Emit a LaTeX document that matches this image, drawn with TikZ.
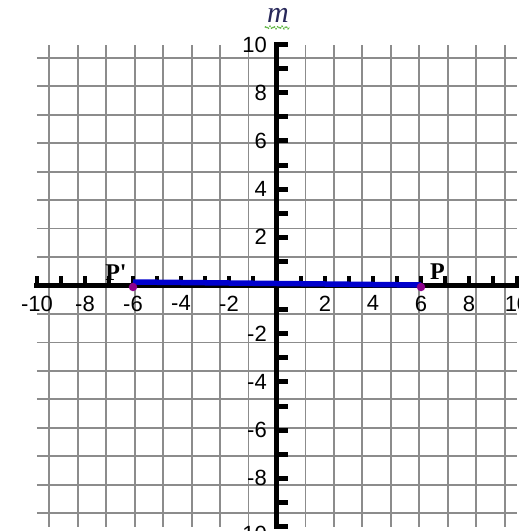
\documentclass[tikz,border=0pt]{standalone}
\usepackage{fontspec}
\setmainfont{Liberation Sans}
\newfontfamily\serifface{Liberation Serif}
\usetikzlibrary{decorations.pathmorphing}
\definecolor{gridgray}{RGB}{140,140,140}
\definecolor{segblue}{RGB}{0,0,205}
\definecolor{dotpurple}{RGB}{140,0,140}
\definecolor{mcolor}{RGB}{40,40,90}
\definecolor{squiggreen}{RGB}{90,180,60}
\begin{document}
\begin{tikzpicture}[x=24pt,y=24.1pt,
  gridline/.style={draw=gridgray, line width=1.8pt},
  axisline/.style={draw=black, line width=5pt, line cap=rect},
  xtick/.style={draw=black, line width=4pt},
  ytick/.style={draw=black, line width=5pt},
  numlab/.style={font=\fontsize{22}{22}\selectfont, inner sep=0pt},
  ptlab/.style={font=\serifface\bfseries\fontsize{24}{24}\selectfont, inner sep=0pt},
  segline/.style={draw=segblue, line width=5.5pt},
  ptdot/.style={fill=dotpurple, circle, inner sep=0pt, minimum size=8.5pt}]
  \useasboundingbox (-277pt,-245.5pt) rectangle (242pt,285.5pt);
  \fill[white] (-277pt,-245.5pt) rectangle (242pt,285.5pt);
  % grid
  \draw[gridline] (-10,-10) grid (10,10);
  % axes
  \draw[axisline] (-10,0) -- (10,0);
  \draw[axisline] (0,-10) -- (0,10);
  \foreach \i in {-10,...,-1,1,2,...,10} {
    \draw[xtick] (\i,0) -- ++(0,10pt);
    \draw[ytick] (0,\i) -- ++(11pt,0);
  }
  % axis labels
  \foreach \i in {-10,-8,-6,-4,-2,2,4,6,8,10} {
    \node[numlab, anchor=north] (xl\i) at ([yshift=-10pt]\i,0) {\i};
  }
  \foreach \i in {-8,-6,-4,-2,2,4,6,8,10} {
    \node[numlab, anchor=east] (yl\i) at ([xshift=-10pt]0,\i) {\i};
  }
  \node[numlab, anchor=east] (ylbottom) at ([xshift=-10pt,yshift=-7pt]0,-10) {-10};
  % line name
  \node[font=\serifface\itshape\fontsize{30}{30}\selectfont, text=mcolor, inner sep=0pt] (mlab) at (1pt,270pt) {m};
  \draw[squiggreen, line width=1.3pt, dash pattern=on 1.3pt off 1.2pt,
        decorate, decoration={zigzag, segment length=4pt, amplitude=1.3pt}]
        (-12pt,258pt) -- (13pt,258pt);
  % segment
  \coordinate (Pp) at ([yshift=3.5pt]-6,0);
  \coordinate (P) at ([yshift=0.5pt]6,0);
  \draw[segline] (Pp) -- (P);
  \node[ptdot] (dotPp) at ([yshift=-1.5pt]-6,0) {};
  \node[ptdot] (dotP) at ([yshift=-1.5pt]6,0) {};
  \node[ptlab] (labPp) at (-161pt,12.5pt) {P'};
  \node[ptlab] (labP) at (160.5pt,13.5pt) {P};
\end{tikzpicture}
\end{document}
